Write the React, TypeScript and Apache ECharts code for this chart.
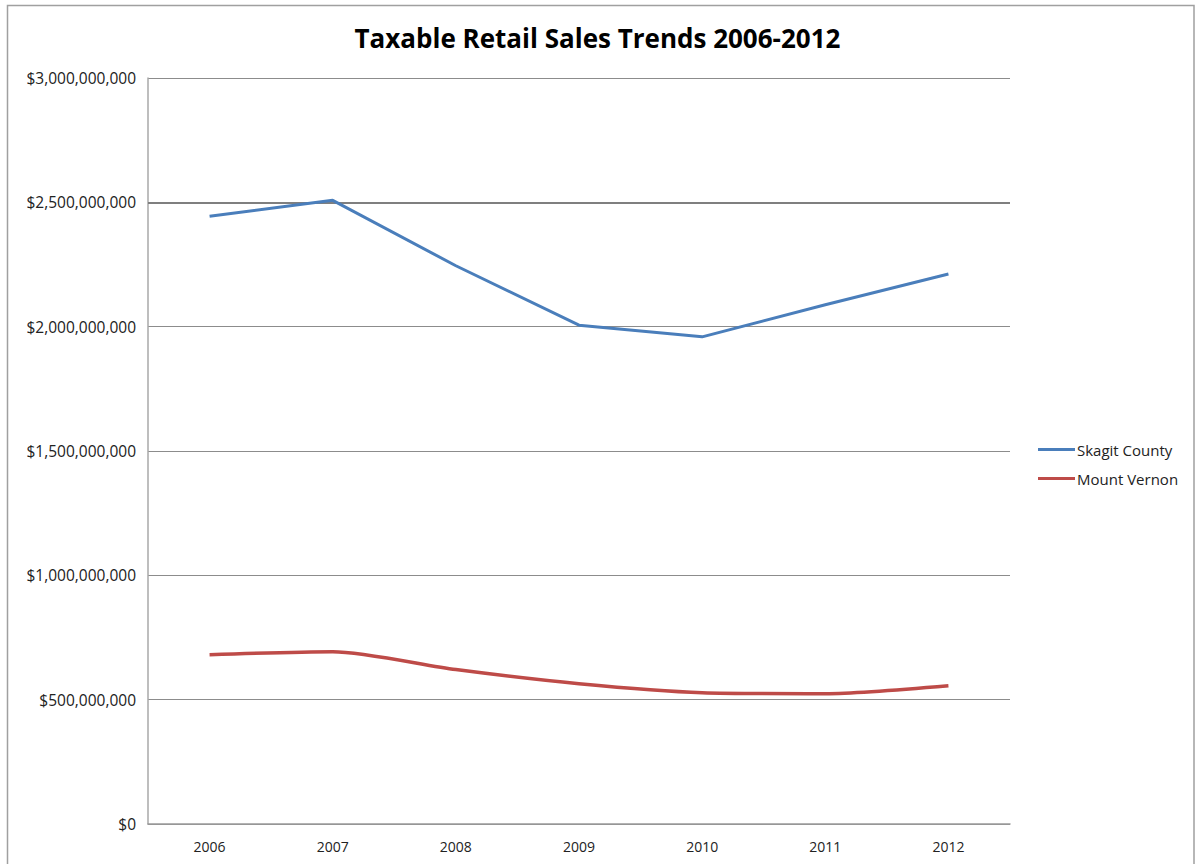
import React, { useEffect, useRef } from "react";
import * as echarts from "echarts";

const years = ["2006", "2007", "2008", "2009", "2010", "2011", "2012"];
const skagitCounty = [2.444e9, 2.508e9, 2.245e9, 2.006e9, 1.959e9, 2.088e9, 2.212e9];
const mountVernon = [0.681e9, 0.693e9, 0.621e9, 0.564e9, 0.528e9, 0.524e9, 0.556e9];
const seriesNames = ["Skagit County", "Mount Vernon"];

const FONT = "'Open Sans', 'Noto Sans', sans-serif";

function fmt(v: number): string {
  return "$" + Math.round(v).toString().replace(/\B(?=(\d{3})+(?!\d))/g, ",");
}

export default function App() {
  const ref = useRef<HTMLDivElement>(null);
  useEffect(() => {
    if (!ref.current) return;
    const chart = echarts.init(ref.current, null, { renderer: "svg" });
    chart.setOption({
      animation: false,
      backgroundColor: "#ffffff",
      title: {
        text: "Taxable Retail Sales Trends 2006-2012",
        left: "center",
        top: 20,
        textStyle: { fontFamily: FONT, fontSize: 26, fontWeight: "bold", color: "#000" },
      },
      graphic: [
        {
          type: "polyline",
          shape: { points: [[7.5, 870], [7.5, 5.5], [1194, 5.5], [1194, 870]] },
          style: { stroke: "#a0a0a0", lineWidth: 1.5, fill: "none" },
          silent: true,
        },
      ],
      legend: {
        orient: "vertical",
        left: 1033,
        top: 437,
        itemWidth: 37,
        itemHeight: 3,
        itemGap: 14,
        icon: "rect",
        textStyle: { fontFamily: FONT, fontSize: 15, color: "#222", padding: [0, 0, 0, -3] },
        data: seriesNames,
      },
      grid: { left: 148, right: 185, top: 78, bottom: 40 },
      xAxis: {
        type: "category",
        data: years,
        boundaryGap: true,
        axisLine: { lineStyle: { color: "#9a9a9a", width: 1.5 } },
        axisTick: { show: false },
        axisLabel: { fontFamily: FONT, fontSize: 14, color: "#222", margin: 15 },
      },
      yAxis: {
        type: "value",
        min: 0,
        max: 3e9,
        interval: 5e8,
        axisLine: { show: true, lineStyle: { color: "#a8a8a8", width: 1.5 } },
        axisTick: { show: false },
        splitLine: { lineStyle: { color: "#8c8c8c", width: 1 } },
        axisLabel: { fontFamily: FONT, fontSize: 15.5, color: "#222", margin: 12, formatter: fmt },
      },
      series: [
        {
          name: seriesNames[0],
          type: "line",
          data: skagitCounty,
          showSymbol: false,
          smooth: false,
          lineStyle: { color: "#4a7ebb", width: 3 },
          itemStyle: { color: "#4a7ebb" },
          markLine: {
            silent: true,
            symbol: "none",
            label: { show: false },
            lineStyle: { color: "#7f7f7f", width: 2, type: "solid" },
            data: [{ yAxis: 2.5e9 }],
            z: 1,
          },
        },
        {
          name: seriesNames[1],
          type: "line",
          data: mountVernon,
          showSymbol: false,
          smooth: 0.25,
          lineStyle: { color: "#be4b48", width: 3.5 },
          itemStyle: { color: "#be4b48" },
        },
      ],
    });
    return () => chart.dispose();
  }, []);
  return (
    <div
      ref={ref}
      style={{ position: "absolute", left: 0, top: 0, width: 1195, height: 864 }}
    />
  );
}
